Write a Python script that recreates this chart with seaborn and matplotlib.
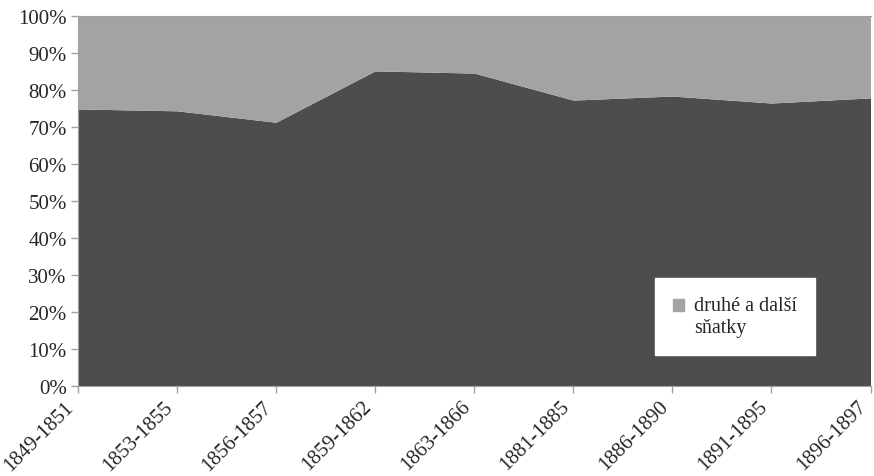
import numpy as np
import pandas as pd
import matplotlib.pyplot as plt
import matplotlib.patches as mpatches
from matplotlib.legend_handler import HandlerPatch
import seaborn as sns

periods = ["1849-1851", "1853-1855", "1856-1857", "1859-1862", "1863-1866",
           "1881-1885", "1886-1890", "1891-1895", "1896-1897"]
first_marriages = [74.9, 74.4, 71.3, 85.2, 84.6, 77.3, 78.4, 76.5, 77.9]
other_marriages = [100 - v for v in first_marriages]

df = pd.DataFrame({"období": periods,
                   "první sňatky": first_marriages,
                   "druhé a další sňatky": other_marriages})

dark, light = "#4d4d4d", "#a3a3a3"

sns.set_style("white")
plt.rcParams['font.family'] = ['Liberation Serif', 'DejaVu Serif']

fig, ax = plt.subplots(figsize=(8.74, 4.77), dpi=100)
fig.subplots_adjust(left=0.089, right=0.996, top=0.964, bottom=0.189)

x = np.arange(len(df))
ax.stackplot(x, df["první sňatky"], df["druhé a další sňatky"],
             colors=[dark, light], linewidth=0)

ax.set_xlim(0, len(df) - 1)
ax.set_ylim(0, 100)
ax.set_yticks(range(0, 101, 10))
ax.set_yticklabels([f"{v}%" for v in range(0, 101, 10)], fontsize=15)
ax.set_xticks(x)
ax.set_xticklabels(df["období"], fontsize=15, rotation=45, ha="right")

for s in ax.spines.values():
    s.set_color("#a0a0a0")
ax.spines["right"].set_visible(False)
ax.tick_params(axis="both", direction="out", length=5, color="#a0a0a0", width=1, pad=3)
ax.tick_params(axis="both", bottom=True, left=True)


# legend marker sits on the first text line
def top_square(legend, orig_handle, xdescent, ydescent, width, height, fontsize):
    return mpatches.Rectangle((-xdescent, -ydescent + 0.55 * fontsize), width, height)


leg = ax.legend(handles=[mpatches.Patch(color=light)], labels=["druhé a další\nsňatky"],
                loc="lower left", bbox_to_anchor=(0.728, 0.084), fontsize=14.5,
                frameon=True, fancybox=False, framealpha=1, edgecolor="white",
                handlelength=0.55, handleheight=0.55, handletextpad=0.5,
                borderpad=0.9, borderaxespad=0,
                handler_map={mpatches.Patch: HandlerPatch(patch_func=top_square)})
leg.get_frame().set_facecolor("white")

fig.savefig("out.png", dpi=100)
